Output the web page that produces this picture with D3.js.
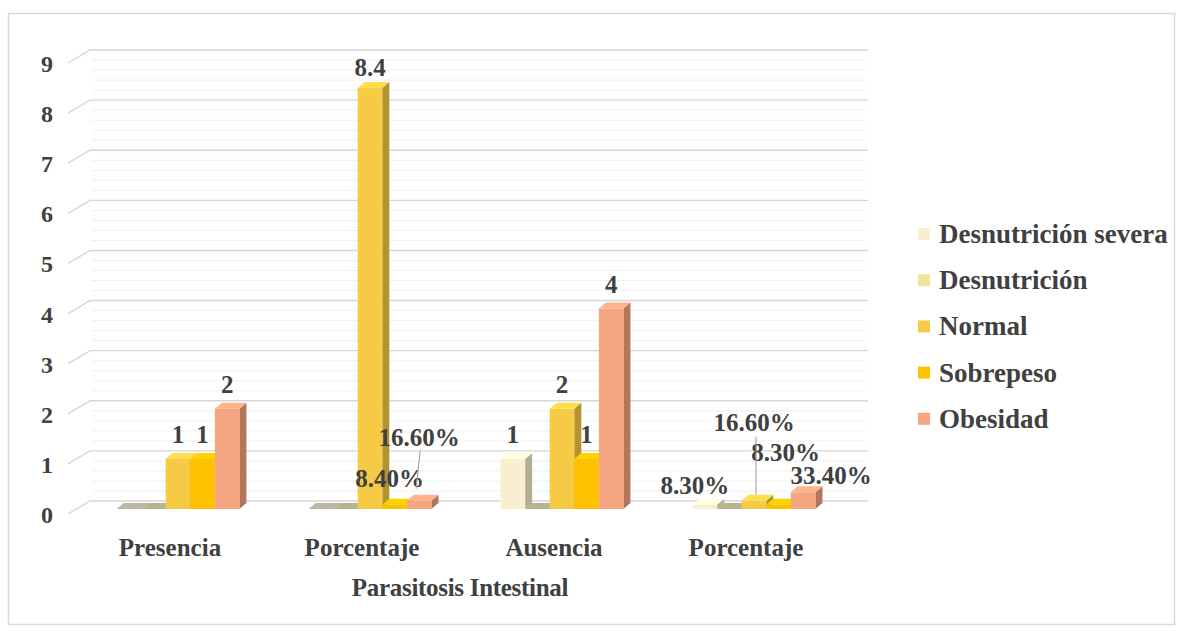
<!DOCTYPE html>
<html><head><meta charset="utf-8">
<script src="https://cdn.jsdelivr.net/npm/d3@7"></script>
<style>body{margin:0;background:#fff}svg{display:block}</style>
</head><body><svg id="c" width="1177" height="631"></svg>
<script>
const categories = ["Presencia","Porcentaje","Ausencia","Porcentaje "];
const seriesNames = ["Desnutrición severa","Desnutrición","Normal","Sobrepeso","Obesidad"];
const seriesColors = ["#F8EFCF","#F2E49A","#F5CB45","#FFC000","#F4A47F"];
const desnutricionSevera = [0, 0, 1, 0.083];
const desnutricion = [0, 0, 0, 0];
const normal = [1, 8.4, 2, 0.166];
const sobrepeso = [1, 0.084, 1, 0.083];
const obesidad = [2, 0.166, 4, 0.334];
const valueLabels = [
  ["", "", "1", "8.30%"],
  ["", "", "", ""],
  ["1", "8.4", "2", "16.60%"],
  ["1", "8.40%", "1", "8.30%"],
  ["2", "16.60%", "4", "33.40%"]
];
const yTicks = [0,1,2,3,4,5,6,7,8,9];
const axisTitle = "Parasitosis Intestinal";
const allSeries = [desnutricionSevera, desnutricion, normal, sobrepeso, obesidad];
const FONT = "'Liberation Serif','Times New Roman',Times,'DejaVu Serif',serif";

const svg = d3.select("#c");
svg.append("rect").attr("x",8.5).attr("y",13.5).attr("width",1166).attr("height",611)
  .attr("fill","#fff").attr("stroke","#d9d9d9").attr("stroke-width",1.5);

const y = d3.scaleLinear().domain([0,9]).range([509,58]);
const x = d3.scaleBand().domain(categories).range([82,850]);
const step = x.step(), groupW = step*0.64, bw = groupW/5, off = (step-groupW)/2;
const dx = 7, dy = 6;

function txt(sel){ return sel.attr("font-family",FONT).attr("font-weight","bold").attr("fill","#404040"); }

// gridlines (3D back wall + side wall)
const g = svg.append("g");
yTicks.forEach(v=>{
  const yy = y(v);
  g.append("path").attr("d",`M68,${yy+5} L90,${yy-8} L868,${yy-8}`)
    .attr("fill","none").attr("stroke","#d6d6d6").attr("stroke-width",1.4);
  if(v<9){
    [10,20,30,40].forEach(o=>{
      g.append("line").attr("x1",92).attr("x2",866).attr("y1",yy-8-o).attr("y2",yy-8-o)
       .attr("stroke","#f0f0f0").attr("stroke-width",1);
    });
  }
});

// y tick labels
txt(svg.append("g").selectAll("text").data(yTicks).join("text"))
  .attr("x",47).attr("y",d=>y(d)+14).attr("text-anchor","middle")
  .attr("font-size",24).text(d=>d);

// bars
const bars = svg.append("g");
categories.forEach((c,ci)=>{
  allSeries.forEach((s,si)=>{
    const v = s[ci];
    const x0 = x(c)+off+si*bw, x1 = x0+bw;
    const yt = y(v), yb = y(0);
    const col = d3.color(seriesColors[si]);
    if (v > 0) {
      bars.append("path").attr("d",`M${x1},${yt} L${x1+dx},${yt-dy} L${x1+dx},${yb-dy} L${x1},${yb}Z`)
        .attr("fill",col.darker(0.9));
      bars.append("rect").attr("x",x0).attr("y",yt).attr("width",bw).attr("height",yb-yt)
        .attr("fill",col);
      bars.append("path").attr("d",`M${x0},${yt} L${x0+dx},${yt-dy} L${x1+dx},${yt-dy} L${x1},${yt}Z`)
        .attr("fill",col.brighter(0.25));
    } else {
      bars.append("path").attr("d",`M${x0},${yb} L${x0+dx},${yb-dy} L${x1+dx},${yb-dy} L${x1},${yb}Z`)
        .attr("fill",d3.interpolateRgb(seriesColors[si],"#8a8a80")(0.55));
    }
  });
});

// category labels
txt(svg.append("g").selectAll("text").data(categories).join("text"))
  .attr("x",d=>x(d)+step/2-8).attr("y",556).attr("text-anchor","middle")
  .attr("font-size",25).text(d=>d.trim());
txt(svg.append("text")).attr("x",460).attr("y",596).attr("text-anchor","middle")
  .attr("font-size",25).attr("letter-spacing",-0.3).text(axisTitle);

// data labels (offsets of label baseline relative to bar top-centre)
const lab = svg.append("g");
const labelOffsets = {
  "0,2":[0,-16],"1,2":[0,-12],"2,2":[0,-16],"3,2":[0,-70],
  "0,3":[0,-16],"1,3":[-5,-18],"2,3":[0,-16],"3,3":[7,-44],
  "0,4":[0,-16],"1,4":[0,-55],"2,4":[0,-16],"3,4":[28,-8],
  "2,0":[0,-16],"3,0":[-10,-11]
};
valueLabels.forEach((arr,si)=>{
  arr.forEach((t,ci)=>{
    if(!t) return;
    const v = allSeries[si][ci];
    const cx = x(categories[ci])+off+si*bw+bw/2;
    const o = labelOffsets[ci+","+si]||[0,-16];
    txt(lab.append("text")).attr("x",cx+o[0]).attr("y",y(v)+o[1]).attr("text-anchor","middle")
      .attr("font-size",25).text(t);
  });
});
// leader lines
const lx1 = x(categories[1])+off+4*bw+bw/2;
lab.append("line").attr("x1",lx1+1).attr("y1",y(0.166)-50).attr("x2",lx1-3).attr("y2",y(0.166)-12)
  .attr("stroke","#9a9a9a").attr("stroke-width",1);
const lx2 = x(categories[3])+off+2*bw+bw/2;
lab.append("line").attr("x1",lx2+2).attr("y1",y(0.166)-64).attr("x2",lx2+2).attr("y2",y(0.166)-6)
  .attr("stroke","#9a9a9a").attr("stroke-width",1);

// legend
const leg = svg.append("g");
seriesNames.forEach((n,i)=>{
  const yy = 234 + i*46.2;
  leg.append("rect").attr("x",918).attr("y",yy-6).attr("width",12).attr("height",12).attr("fill",seriesColors[i]);
  txt(leg.append("text")).attr("x",939).attr("y",yy+9)
    .attr("font-size",27).text(n);
});
</script></body></html>
